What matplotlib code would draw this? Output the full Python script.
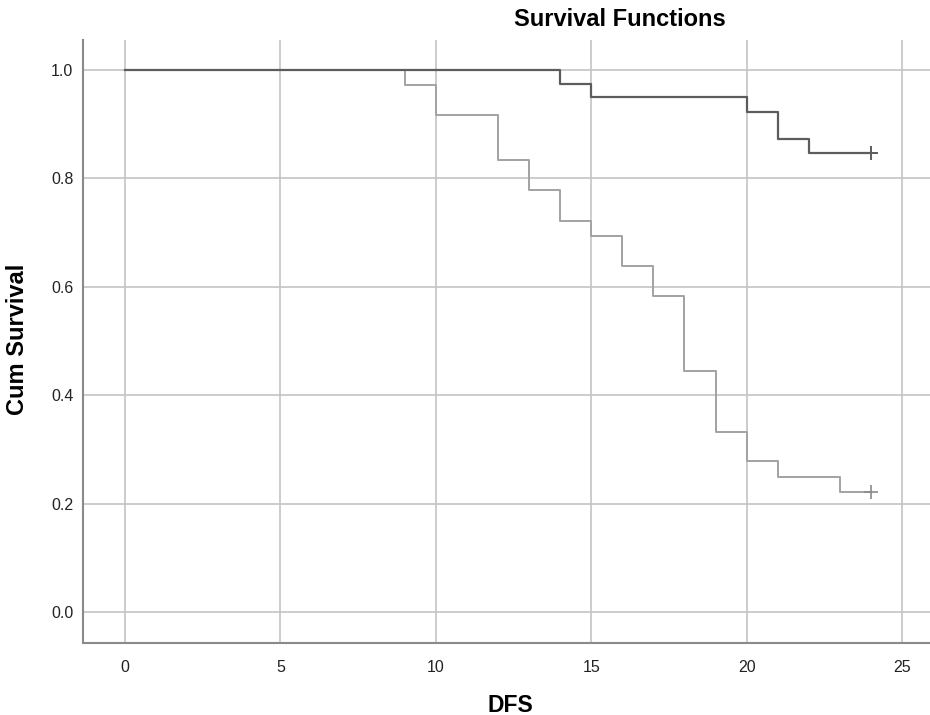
import numpy as np
import matplotlib.pyplot as plt

plt.rcParams["font.family"] = ["Liberation Sans", "DejaVu Sans"]

# Kaplan-Meier step data
time_a = [0, 14, 15, 20, 21, 22, 24]
surv_a = [1.0, 0.974, 0.949, 0.923, 0.872, 0.846, 0.846]

time_b = [0, 9, 10, 12, 13, 14, 15, 16, 17, 18, 19, 20, 21, 23, 24]
surv_b = [1.0, 0.972, 0.917, 0.833, 0.778, 0.722, 0.694, 0.639, 0.583,
          0.444, 0.333, 0.278, 0.25, 0.222, 0.222]

x_ticks = [0, 5, 10, 15, 20, 25]
y_ticks = [0.0, 0.2, 0.4, 0.6, 0.8, 1.0]

fig = plt.figure(figsize=(9.3, 7.15), dpi=100)
ax = fig.add_axes([83 / 930, 72 / 715, 847 / 930, 603 / 715])

ax.set_xlim(-1.35, 25.9)
ax.set_ylim(-0.057, 1.055)
ax.set_xticks(x_ticks)
ax.set_yticks(y_ticks)
ax.set_yticklabels([f"{v:.1f}" for v in y_ticks])
ax.grid(True, color="#c4c4c4", linewidth=1.2)
ax.set_axisbelow(True)
ax.tick_params(length=0, labelsize=11.5, colors="#222222")
ax.tick_params(axis="x", pad=12)
ax.tick_params(axis="y", pad=7)

ax.step(time_b, surv_b, where="post", color="#a2a2a2", linewidth=1.4, zorder=3)
ax.step(time_a, surv_a, where="post", color="#5c5c5c", linewidth=1.6, zorder=4)
ax.plot(time_a[-1], surv_a[-1], marker="+", color="#5c5c5c", markersize=10, mew=1.4, zorder=5)
ax.plot(time_b[-1], surv_b[-1], marker="+", color="#8a8a8a", markersize=10, mew=1.2, zorder=5)

for side in ["top", "right"]:
    ax.spines[side].set_visible(False)
for side in ["left", "bottom"]:
    ax.spines[side].set_color("#8a8a8a")
    ax.spines[side].set_linewidth(1.5)

ax.set_xlabel("DFS", fontsize=16.5, fontweight="bold", va="center")
ax.xaxis.set_label_coords(0.504, -0.103)
ax.set_ylabel("Cum Survival", fontsize=17, fontweight="bold", va="center")
ax.yaxis.set_label_coords(-0.077, 0.504)
fig.text(620 / 930, 1 - 20 / 715, "Survival Functions", fontsize=17,
         fontweight="bold", ha="center", va="center")

fig.savefig("out.png", dpi=100)
